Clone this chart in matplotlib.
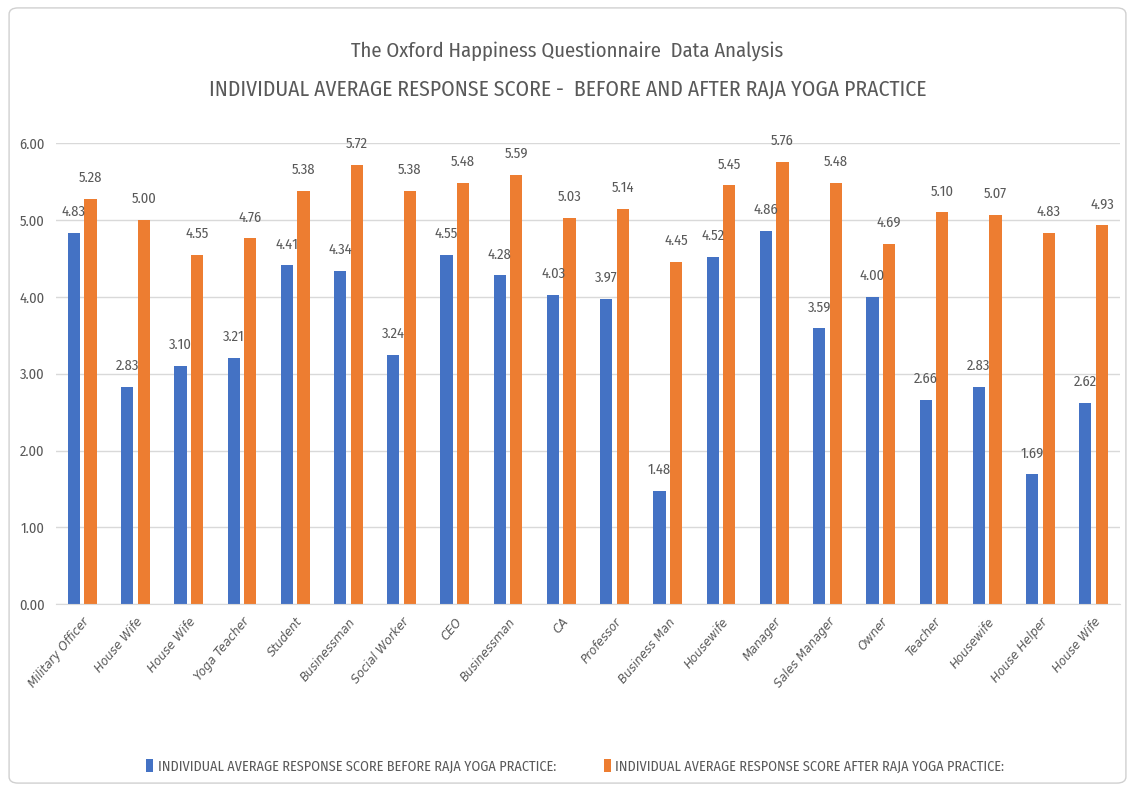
import matplotlib.pyplot as plt
import numpy as np
from matplotlib.patches import FancyBboxPatch

plt.rcParams['font.family'] = ['Fira Sans Condensed', 'DejaVu Sans']

# data
roles = ["Military Officer", "House Wife", "House Wife", "Yoga Teacher", "Student",
         "Businessman", "Social Worker", "CEO", "Businessman", "CA", "Professor",
         "Business Man", "Housewife", "Manager", "Sales Manager", "Owner", "Teacher",
         "Housewife", "House Helper", "House Wife"]
before = [4.83, 2.83, 3.10, 3.21, 4.41, 4.34, 3.24, 4.55, 4.28, 4.03, 3.97,
          1.48, 4.52, 4.86, 3.59, 4.00, 2.66, 2.83, 1.69, 2.62]
after = [5.28, 5.00, 4.55, 4.76, 5.38, 5.72, 5.38, 5.48, 5.59, 5.03, 5.14,
         4.45, 5.45, 5.76, 5.48, 4.69, 5.10, 5.07, 4.83, 4.93]

blue = "#4472C4"
orange = "#ED7D31"
grey = "#595959"

fig = plt.figure(figsize=(11.35, 7.91), dpi=100)
ax = fig.add_axes([0.049, 0.236, 0.938, 0.583])

x = np.arange(len(roles))
w = 0.23
b1 = ax.bar(x - w / 2 - 0.04, before, w, color=blue,
            label="INDIVIDUAL AVERAGE RESPONSE SCORE BEFORE RAJA YOGA PRACTICE:")
b2 = ax.bar(x + w / 2 + 0.04, after, w, color=orange,
            label="INDIVIDUAL AVERAGE RESPONSE SCORE AFTER RAJA YOGA PRACTICE:")

for bars in (b1, b2):
    for r in bars:
        ax.annotate(f"{r.get_height():.2f}", (r.get_x() + r.get_width() / 2, r.get_height()),
                    xytext=(0, 10), textcoords="offset points", ha="center", va="bottom",
                    fontsize=10.5, color=grey)

ax.set_xlim(-0.5, len(roles) - 0.5)
ax.set_ylim(0, 6)
ax.set_yticks(np.arange(0, 7, 1))
ax.set_yticklabels([f"{v:.2f}" for v in np.arange(0, 7, 1)], fontsize=10.5, color=grey)
ax.set_xticks(x)
# only DejaVu ships an oblique face for sure, so the slanted labels use it
ax.set_xticklabels(roles, rotation=50, ha="right", rotation_mode="anchor",
                   fontsize=8.5, color=grey, style="italic", family="DejaVu Sans")
ax.tick_params(length=0, pad=8)
ax.yaxis.grid(True, color="#D9D9D9", linewidth=1)
ax.set_axisbelow(True)
for s in ["top", "right", "left"]:
    ax.spines[s].set_visible(False)
ax.spines["bottom"].set_color("#D9D9D9")

fig.text(0.5, 0.935, "The Oxford Happiness Questionnaire  Data Analysis",
         ha="center", va="center", fontsize=14.8, color=grey)
fig.text(0.5, 0.887, "INDIVIDUAL AVERAGE RESPONSE SCORE -  BEFORE AND AFTER RAJA YOGA PRACTICE",
         ha="center", va="center", fontsize=15.5, color=grey)

fig.legend(loc="center", bbox_to_anchor=(0.507, 0.031), ncol=2, frameon=False,
           fontsize=10.2, labelcolor=grey, handlelength=0.5, handleheight=1.0,
           handletextpad=0.3, columnspacing=3.4)

frame = FancyBboxPatch((0.008, 0.01), 0.984, 0.98, boxstyle="round,pad=0,rounding_size=0.008",
                       transform=fig.transFigure, fill=False, edgecolor="#D0D0D0", linewidth=1)
fig.patches.append(frame)

fig.savefig("out.png", dpi=100)
